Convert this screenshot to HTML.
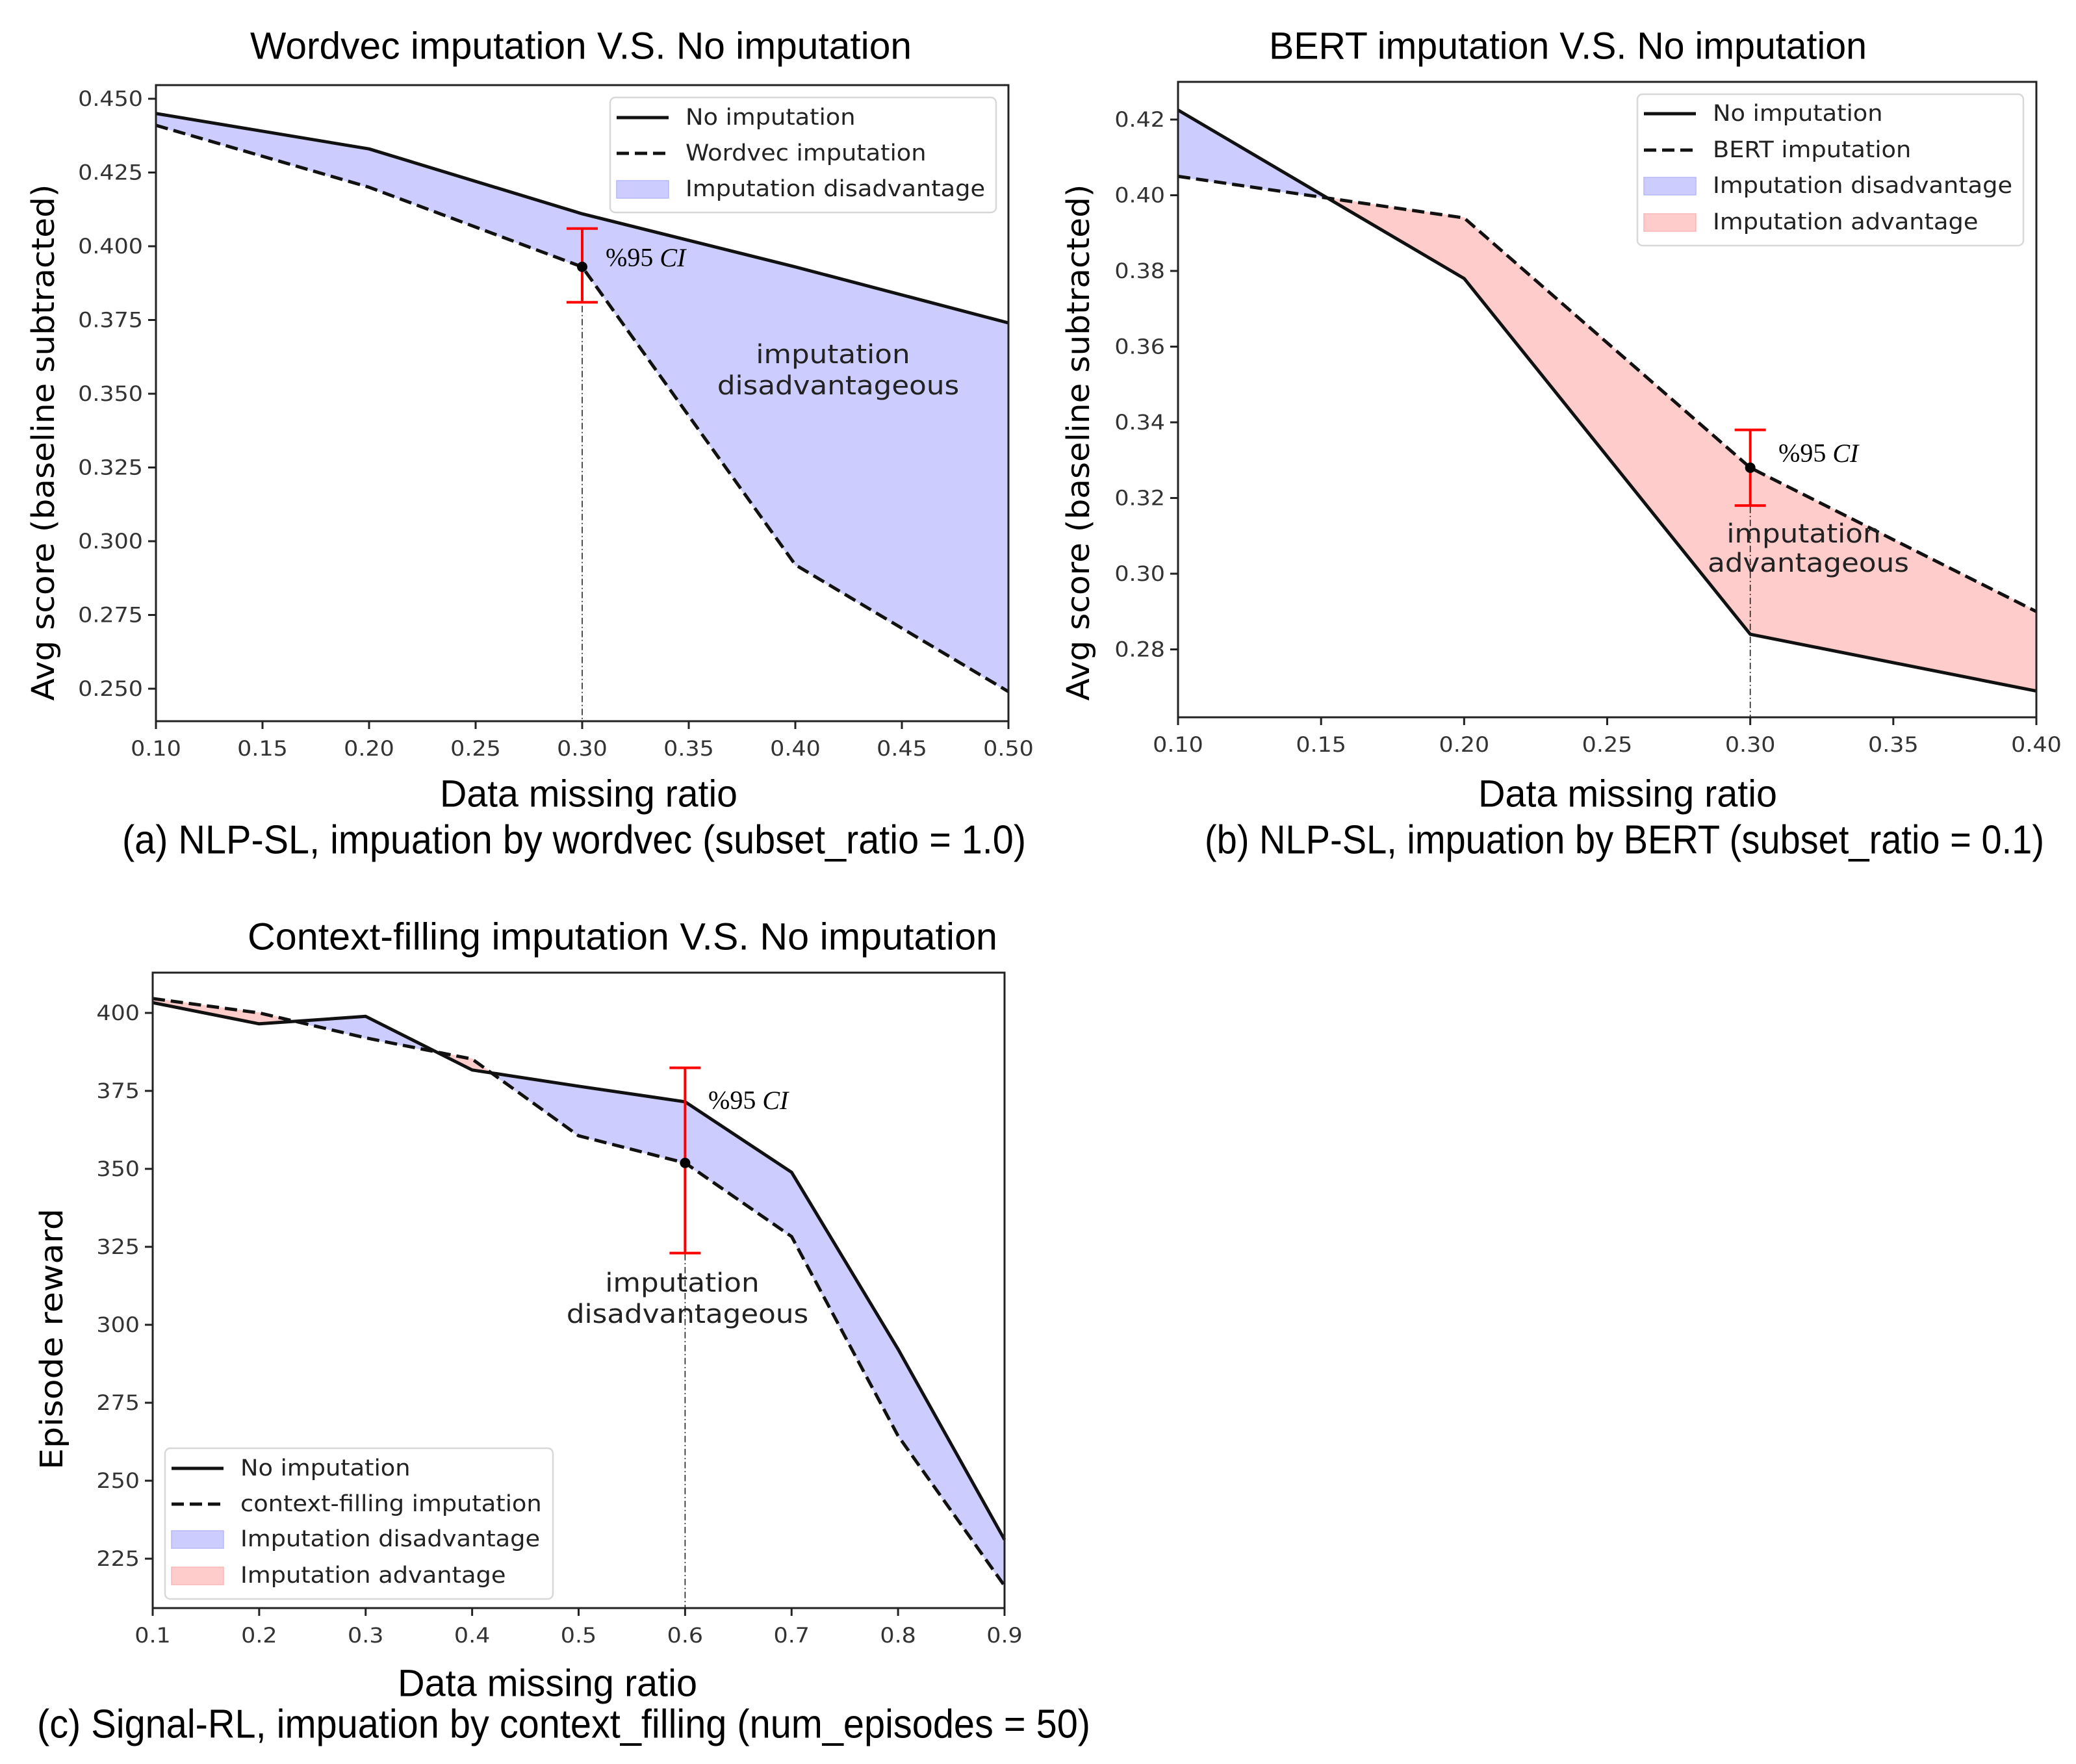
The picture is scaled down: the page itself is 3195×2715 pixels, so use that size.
<!DOCTYPE html>
<html><head><meta charset="utf-8"><style>
html,body{margin:0;padding:0;background:#fff;}
svg{display:block;}
</style></head><body>
<svg id="fig" width="3195" height="2715" viewBox="0 0 3195 2715" xmlns="http://www.w3.org/2000/svg">
<rect width="3195" height="2715" fill="#fff"/>
</svg>
<script>
// ---- Chart A data ----
const A_x = [0.1, 0.2, 0.3, 0.4, 0.5];
const A_no = [0.445, 0.433, 0.411, 0.393, 0.374];
const A_imp = [0.441, 0.420, 0.393, 0.292, 0.249];
const A_xticks = [0.10, 0.15, 0.20, 0.25, 0.30, 0.35, 0.40, 0.45, 0.50];
const A_xtickLabels = ["0.10","0.15","0.20","0.25","0.30","0.35","0.40","0.45","0.50"];
const A_yticks = [0.250, 0.275, 0.300, 0.325, 0.350, 0.375, 0.400, 0.425, 0.450];
const A_ytickLabels = ["0.250","0.275","0.300","0.325","0.350","0.375","0.400","0.425","0.450"];
const A_ci = [0.3, 0.393, 0.381, 0.406];
// ---- Chart B data ----
const B_x = [0.1, 0.2, 0.3, 0.4];
const B_no = [0.4225, 0.378, 0.284, 0.269];
const B_imp = [0.405, 0.394, 0.328, 0.290];
const B_xticks = [0.10, 0.15, 0.20, 0.25, 0.30, 0.35, 0.40];
const B_xtickLabels = ["0.10","0.15","0.20","0.25","0.30","0.35","0.40"];
const B_yticks = [0.28, 0.30, 0.32, 0.34, 0.36, 0.38, 0.40, 0.42];
const B_ytickLabels = ["0.28","0.30","0.32","0.34","0.36","0.38","0.40","0.42"];
const B_ci = [0.3, 0.328, 0.318, 0.338];
// ---- Chart C data ----
const C_x = [0.1, 0.2, 0.3, 0.4, 0.5, 0.6, 0.7, 0.8, 0.9];
const C_no = [403.3, 396.5, 398.9, 381.7, 376.5, 371.5, 348.9, 292.2, 231.1];
const C_imp = [404.6, 400.0, 392.0, 385.2, 360.6, 351.9, 328.3, 264.4, 216.3];
const C_xticks = [0.1, 0.2, 0.3, 0.4, 0.5, 0.6, 0.7, 0.8, 0.9];
const C_xtickLabels = ["0.1","0.2","0.3","0.4","0.5","0.6","0.7","0.8","0.9"];
const C_yticks = [225, 250, 275, 300, 325, 350, 375, 400];
const C_ytickLabels = ["225","250","275","300","325","350","375","400"];
const C_ci = [0.6, 351.9, 323, 382.4];

const NS = "http://www.w3.org/2000/svg";
const svg = document.getElementById('fig');
function mk(tag, attrs, parent){
  const e = document.createElementNS(NS, tag);
  for (const k in attrs) e.setAttribute(k, attrs[k]);
  (parent||svg).appendChild(e);
  return e;
}
function txt(parent, x, y, s, size, anchor, family, sx, fill){
  const t = mk('text', {x:0, y:0, 'font-size':size, 'text-anchor':anchor||'middle', 'dominant-baseline':'central',
    'font-family':family||'"DejaVu Sans", sans-serif', fill:fill||'#222',
    transform:'translate('+x+','+y+') scale('+(sx||1)+',1)'}, parent);
  t.textContent = s;
  return t;
}

function drawChart(cfg){
  const g = mk('g', {});
  
  
  const X = v => cfg.L + (v - cfg.xmin)/(cfg.xmax - cfg.xmin)*(cfg.R - cfg.L);
  const Y = v => cfg.yRef0 + (v - cfg.yv0)/(cfg.yv1 - cfg.yv0)*(cfg.yRef1 - cfg.yRef0);
  const xs = cfg.xs, no = cfg.no, imp = cfg.imp;
  const fg = mk('g', {}, g);
  
  
  for (let i = 0; i < xs.length-1; i++){
    const d0 = no[i]-imp[i], d1 = no[i+1]-imp[i+1];
    const pieces = [];
    if (d0*d1 < 0){
      const t = d0/(d0-d1);
      const cx = xs[i] + t*(xs[i+1]-xs[i]);
      const cy = no[i] + t*(no[i+1]-no[i]);
      pieces.push([[xs[i],no[i]],[cx,cy],[xs[i],imp[i]], d0]);
      pieces.push([[cx,cy],[xs[i+1],no[i+1]],[xs[i+1],imp[i+1]], d1]);
    } else {
      pieces.push([[xs[i],no[i]],[xs[i+1],no[i+1]],[xs[i+1],imp[i+1]],[xs[i],imp[i]], d0+d1]);
    }
    pieces.forEach(p => {
      const sign = p[p.length-1];
      const pts = p.slice(0,-1).map(q => X(q[0]).toFixed(1)+','+Y(q[1]).toFixed(1)).join(' ');
      const col = sign >= 0 ? '#ccccff' : '#ffcccc';
      const poly = mk('polygon', {points:pts, fill:col, stroke:col, 'stroke-width':1.5}, fg);
      
      
    });
  }
  const ci = cfg.ci;
  const vl = mk('line', {x1:X(ci[0]), y1:Y(ci[1]), x2:X(ci[0]), y2:cfg.B, stroke:'#222', 'stroke-width':1.6, 'stroke-dasharray':'10,4,2,4'}, g);
  
  
  const pNo = xs.map((v,i) => X(v).toFixed(1)+','+Y(no[i]).toFixed(1)).join(' ');
  const pIm = xs.map((v,i) => X(v).toFixed(1)+','+Y(imp[i]).toFixed(1)).join(' ');
  const l1 = mk('polyline', {points:pNo, fill:'none', stroke:'#111', 'stroke-width':5, 'stroke-linejoin':'round'}, g);
  
  
  const l2 = mk('polyline', {points:pIm, fill:'none', stroke:'#111', 'stroke-width':5, 'stroke-dasharray':'19,9'}, g);
  
  
  const eb = mk('g', {stroke:'#f00', 'stroke-width':4}, g);
  
  
  const ex = X(ci[0]);
  mk('line', {x1:ex, y1:Y(ci[2]), x2:ex, y2:Y(ci[3])}, eb);
  mk('line', {x1:ex-24, y1:Y(ci[2]), x2:ex+24, y2:Y(ci[2])}, eb);
  mk('line', {x1:ex-24, y1:Y(ci[3]), x2:ex+24, y2:Y(ci[3])}, eb);
  const dot = mk('circle', {cx:ex, cy:Y(ci[1]), r:8, fill:'#000'}, g);
  
  
  const cit = mk('text', {x:cfg.ciLabel[0], y:cfg.ciLabel[1], 'font-size':40, 'font-family':'"Liberation Serif", serif', 'dominant-baseline':'central', fill:'#000'}, g);
  
  
  cit.innerHTML = '%95 <tspan font-style="italic">CI</tspan>';
  cfg.annot.forEach(a => {
    const t = txt(g, a[0], a[1], a[2], 40, 'middle', null, 1.09, '#222');
    
    
  });
  const fr = mk('rect', {x:cfg.L, y:cfg.T, width:cfg.R-cfg.L, height:cfg.B-cfg.T, fill:'none', stroke:'#222', 'stroke-width':3}, g);
  
  
  const xa = mk('g', {}, g);
  
  
  cfg.xticks.forEach((v,i) => {
    mk('line', {x1:X(v), y1:cfg.B, x2:X(v), y2:cfg.B+12, stroke:'#222', 'stroke-width':3}, xa);
    const t = txt(xa, X(v), cfg.B+42, cfg.xtl[i], 32, 'middle', null, 1.09, '#333');
    
    
  });
  const ya = mk('g', {}, g);
  
  
  cfg.yticks.forEach((v,i) => {
    mk('line', {x1:cfg.L-12, y1:Y(v), x2:cfg.L, y2:Y(v), stroke:'#222', 'stroke-width':3}, ya);
    const t = txt(ya, cfg.L-20, Y(v), cfg.ytl[i], 32, 'end', null, 1.09, '#333');
    
    
  });
  const yl = mk('text', {x:0, y:0, 'font-size':48, 'text-anchor':'middle', 'dominant-baseline':'central', 'font-family':'"DejaVu Sans", sans-serif', fill:'#000',
    textLength:cfg.yLabel[3], lengthAdjust:'spacingAndGlyphs', transform:'translate('+cfg.yLabel[0]+','+cfg.yLabel[1]+') rotate(-90)'}, g);
  
  
  yl.textContent = cfg.yLabel[2];
  [['chart-title', cfg.title], ['x-axis-title', cfg.xLabel], ['caption', cfg.caption]].forEach(p => {
    const d = p[1];
    const t = mk('text', {x:d[0], y:d[1], 'font-size':d[4], 'text-anchor':'start', 'dominant-baseline':'central', 'font-family':'"Liberation Sans Narrow","Liberation Sans", sans-serif', fill:'#000',
      textLength:d[3], lengthAdjust:'spacingAndGlyphs'}, svg);
    
    
    t.textContent = d[2];
  });
  const lg = mk('g', {}, g);
  
  
  const Lb = cfg.legend;
  mk('rect', {x:Lb.x, y:Lb.y, width:Lb.w, height:Lb.h, rx:8, fill:'#fff', 'fill-opacity':0.85, stroke:'#d8d8d8', 'stroke-width':2.5}, lg);
  Lb.items.forEach((it,i) => {
    const ey = Lb.rows[i];
    const sx0 = Lb.x+10, sx1 = Lb.x+90;
    const eg = mk('g', {}, lg);
    
    
    if (it[0] === 'solid') mk('line', {x1:sx0, y1:ey, x2:sx1, y2:ey, stroke:'#111', 'stroke-width':5}, eg);
    else if (it[0] === 'dash') mk('line', {x1:sx0, y1:ey, x2:sx1, y2:ey, stroke:'#111', 'stroke-width':5, 'stroke-dasharray':'19,9'}, eg);
    else mk('rect', {x:sx0, y:ey-13, width:80, height:27, fill:it[0], stroke:it[0]==='#ccccff'?'#b8b8f8':'#f8b8b8', 'stroke-width':1.5}, eg);
    txt(eg, Lb.x+116, ey, it[1], 35, 'start', null, 1.05, '#222');
  });
}

drawChart({name:'chart-a-wordvec', L:240, R:1552, T:131, B:1110, xmin:0.1, xmax:0.5,
  yv0:0.450, yRef0:152, yv1:0.250, yRef1:1060,
  xs:A_x, no:A_no, imp:A_imp, xticks:A_xticks, xtl:A_xtickLabels, yticks:A_yticks, ytl:A_ytickLabels, ci:A_ci,
  ciLabel:[932,396], annot:[[1282,545,'imputation'],[1290,593,'disadvantageous']],
  yLabel:[67,681,'Avg score (baseline subtracted)',795],
  title:[385,71,'Wordvec imputation V.S. No imputation',1018,58],
  xLabel:[677,1222,'Data missing ratio',458,58],
  caption:[188,1293,'(a)  NLP-SL, impuation by wordvec (subset_ratio = 1.0)',1391,62],
  legend:{x:939, y:150, w:594, h:177, rows:[181,236,291], items:[['solid','No imputation'],['dash','Wordvec imputation'],['#ccccff','Imputation disadvantage']]}
});
drawChart({name:'chart-b-bert', L:1813, R:3134, T:126, B:1104, xmin:0.1, xmax:0.4,
  yv0:0.42, yRef0:184, yv1:0.38, yRef1:417,
  xs:B_x, no:B_no, imp:B_imp, xticks:B_xticks, xtl:B_xtickLabels, yticks:B_yticks, ytl:B_ytickLabels, ci:B_ci,
  ciLabel:[2737,697], annot:[[2776,821,'imputation'],[2783,866,'advantageous']],
  yLabel:[1660,681,'Avg score (baseline subtracted)',795],
  title:[1953,71,'BERT imputation V.S. No imputation',920,58],
  xLabel:[2275,1222,'Data missing ratio',460,58],
  caption:[1854,1293,'(b) NLP-SL, impuation by BERT (subset_ratio = 0.1)',1292,62],
  legend:{x:2520, y:145, w:594, h:233, rows:[175,231,286,342], items:[['solid','No imputation'],['dash','BERT imputation'],['#ccccff','Imputation disadvantage'],['#ffcccc','Imputation advantage']]}
});
drawChart({name:'chart-c-context-filling', L:235, R:1546, T:1497, B:2475, xmin:0.1, xmax:0.9,
  yv0:400, yRef0:1559, yv1:375, yRef1:1679,
  xs:C_x, no:C_no, imp:C_imp, xticks:C_xticks, xtl:C_xtickLabels, yticks:C_yticks, ytl:C_ytickLabels, ci:C_ci,
  ciLabel:[1090,1693], annot:[[1050,1974,'imputation'],[1058,2022,'disadvantageous']],
  yLabel:[80,2061,'Episode reward',402],
  title:[381,1442,'Context-filling imputation V.S. No imputation',1154,58],
  xLabel:[612,2591,'Data missing ratio',461,58],
  caption:[57,2654,'(c) Signal-RL, impuation by context_filling (num_episodes = 50)',1621,62],
  legend:{x:254, y:2229, w:597, h:232, rows:[2260,2315,2369,2425], items:[['solid','No imputation'],['dash','context-filling imputation'],['#ccccff','Imputation disadvantage'],['#ffcccc','Imputation advantage']]}
});
</script>
</body></html>
